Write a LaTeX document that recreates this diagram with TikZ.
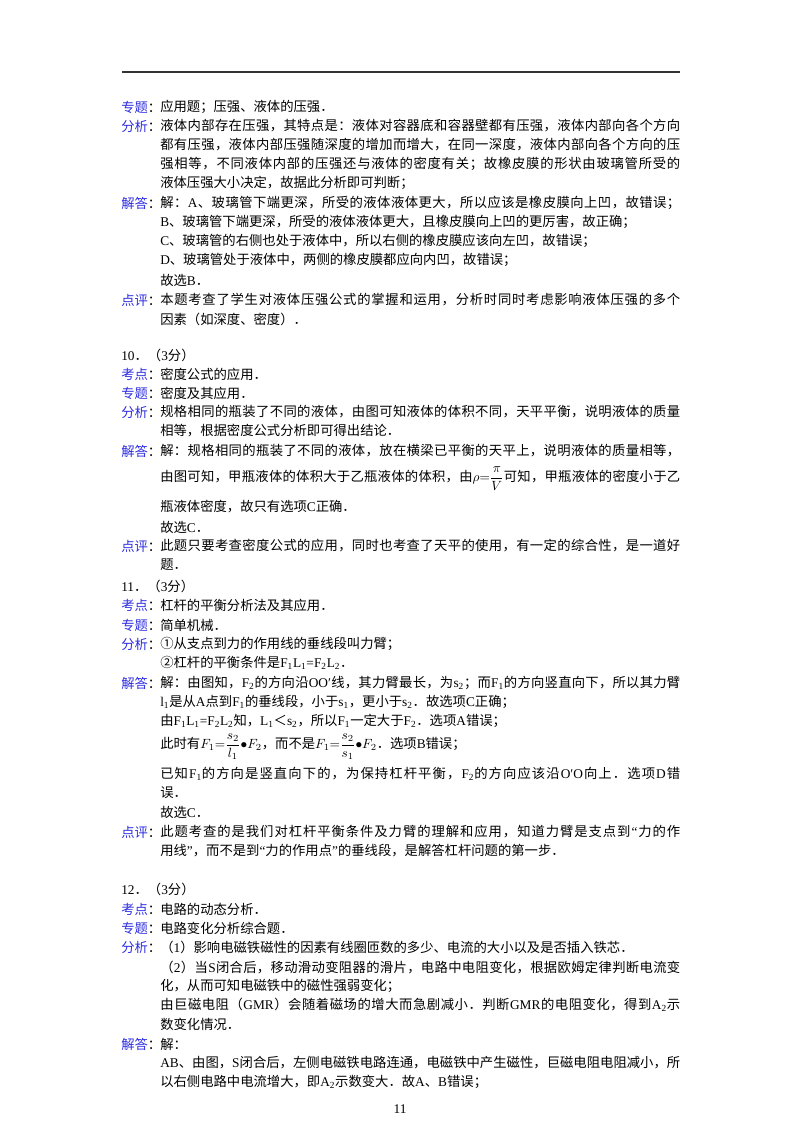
\documentclass[tikz,border=0pt]{standalone}
\usepackage{fontspec}
\usepackage{amsmath}
\usepackage{xcolor}
\usepackage{tikz}
\usetikzlibrary{positioning}
\setmainfont{Liberation Serif}
\newfontfamily\cjk{Noto Sans CJK SC}
\newfontfamily\lat{Liberation Serif}
\definecolor{lbl}{RGB}{45,45,225}
% switch fonts for Chinese characters
\XeTeXinterchartokenstate=1
\newXeTeXintercharclass\CJKcls
\def\setcls#1#2{\count255=#1 \loop\XeTeXcharclass\count255=\CJKcls
  \ifnum\count255<#2 \advance\count255 1 \repeat}
\setcls{"3000}{"303F}\setcls{"4E00}{"9FFF}\setcls{"FF00}{"FFEF}\setcls{"2460}{"24FF}
\XeTeXinterchartoks 0 \CJKcls = {\cjk\hskip0pt plus 2pt minus .4pt}
\XeTeXinterchartoks 4095 \CJKcls = {\cjk}
\XeTeXinterchartoks \CJKcls 0 = {\lat\hskip0pt plus 2pt minus .4pt}
\XeTeXinterchartoks \CJKcls 4095 = {\lat}
\XeTeXinterchartoks \CJKcls \CJKcls = {\hskip0pt plus 2pt minus .4pt}
\newcommand\fl[1]{\makebox[390pt][s]{#1}}
\newcommand\lo[1]{\textsubscript{#1}}
\newcommand\tg[1]{{\color{lbl}#1}：}

\begin{document}
\begin{tikzpicture}[x=0.75pt, y=-0.75pt,
    every node/.style={font=\fontsize{10}{12}\selectfont},
    row/.style={anchor=west, inner sep=0pt},
    tag/.style={anchor=west, inner sep=0pt}]
\useasboundingbox (0,0) rectangle (800,1132);

% TOP RULE
\coordinate (ra) at (122,72);
\coordinate (rb) at (680,72);
\draw[line width=0.8pt, black!80] (ra) -- (rb);

% QUESTION 9 (END)
\node[tag] (t9a) at (121,107) {\tg{专题}};
\node[row] (r9a) at (160,107) {应用题；压强、液体的压强．};
\node[tag] (t9b) at (121,126) {\tg{分析}};
\node[row] (r9b) at (160,126) {\fl{液体内部存在压强，其特点是：液体对容器底和容器壁都有压强，液体内部向各个方向}};
\node[row] (r9c) at (160,145) {\fl{都有压强，液体内部压强随深度的增加而增大，在同一深度，液体内部向各个方向的压}};
\node[row] (r9d) at (160,164) {\fl{强相等，不同液体内部的压强还与液体的密度有关；故橡皮膜的形状由玻璃管所受的}};
\node[row] (r9e) at (160,183) {液体压强大小决定，故据此分析即可判断；};
\node[tag] (t9c) at (121,203) {\tg{解答}};
\node[row] (r9f) at (160,203) {\fl{解：A、玻璃管下端更深，所受的液体液体更大，所以应该是橡皮膜向上凹，故错误；}};
\node[row] (r9g) at (160,222) {B、玻璃管下端更深，所受的液体液体更大，且橡皮膜向上凹的更厉害，故正确；};
\node[row] (r9h) at (160,241) {C、玻璃管的右侧也处于液体中，所以右侧的橡皮膜应该向左凹，故错误；};
\node[row] (r9i) at (160,260) {D、玻璃管处于液体中，两侧的橡皮膜都应向内凹，故错误；};
\node[row] (r9j) at (160,280) {故选B．};
\node[tag] (t9d) at (121,300) {\tg{点评}};
\node[row] (r9k) at (160,300) {\fl{本题考查了学生对液体压强公式的掌握和运用，分析时同时考虑影响液体压强的多个}};
\node[row] (r9l) at (160,319) {因素（如深度、密度）．};

% QUESTION 10
\node[tag] (q10) at (121,355) {10．（3分）};
\node[tag] (t10a) at (121,374) {\tg{考点}};
\node[row] (r10a) at (160,374) {密度公式的应用．};
\node[tag] (t10b) at (121,393) {\tg{专题}};
\node[row] (r10b) at (160,393) {密度及其应用．};
\node[tag] (t10c) at (121,412) {\tg{分析}};
\node[row] (r10c) at (160,412) {\fl{规格相同的瓶装了不同的液体，由图可知液体的体积不同，天平平衡，说明液体的质量}};
\node[row] (r10d) at (160,431) {相等，根据密度公式分析即可得出结论．};
\node[tag] (t10d) at (121,451) {\tg{解答}};
\node[row] (r10e) at (160,451) {\fl{解：规格相同的瓶装了不同的液体，放在横梁已平衡的天平上，说明液体的质量相等，}};
\node[row] (r10f) at (160,479) {\fl{由图可知，甲瓶液体的体积大于乙瓶液体的体积，由$\rho{=}\dfrac{\pi}{V}$可知，甲瓶液体的密度小于乙}};
\node[row] (r10g) at (160,507) {瓶液体密度，故只有选项C正确．};
\node[row] (r10h) at (160,527) {故选C．};
\node[tag] (t10e) at (121,546) {\tg{点评}};
\node[row] (r10i) at (160,546) {\fl{此题只要考查密度公式的应用，同时也考查了天平的使用，有一定的综合性，是一道好}};
\node[row] (r10j) at (160,565) {题．};

% QUESTION 11
\node[tag] (q11) at (121,586) {11．（3分）};
\node[tag] (t11a) at (121,605) {\tg{考点}};
\node[row] (r11a) at (160,605) {杠杆的平衡分析法及其应用．};
\node[tag] (t11b) at (121,625) {\tg{专题}};
\node[row] (r11b) at (160,625) {简单机械．};
\node[tag] (t11c) at (121,644) {\tg{分析}};
\node[row] (r11c) at (160,644) {①从支点到力的作用线的垂线段叫力臂；};
\node[row] (r11d) at (160,663) {②杠杆的平衡条件是F\lo{1}L\lo{1}=F\lo{2}L\lo{2}．};
\node[tag] (t11d) at (121,683) {\tg{解答}};
\node[row] (r11e) at (160,683) {\fl{解：由图知，F\lo{2}的方向沿OO′线，其力臂最长，为s\lo{2}；而F\lo{1}的方向竖直向下，所以其力臂}};
\node[row] (r11f) at (160,702) {l\lo{1}是从A点到F\lo{1}的垂线段，小于s\lo{1}，更小于s\lo{2}．故选项C正确；};
\node[row] (r11g) at (160,721) {由F\lo{1}L\lo{1}=F\lo{2}L\lo{2}知，L\lo{1}＜s\lo{2}，所以F\lo{1}一定大于F\lo{2}．选项A错误；};
\node[row] (r11h) at (160,747) {此时有$F_1{=}\dfrac{s_2}{l_1}{\bullet}F_2$，而不是$F_1{=}\dfrac{s_2}{s_1}{\bullet}F_2$．选项B错误；};
\node[row] (r11i) at (160,774) {\fl{已知F\lo{1}的方向是竖直向下的，为保持杠杆平衡，F\lo{2}的方向应该沿O′O向上．选项D错}};
\node[row] (r11j) at (160,793) {误．};
\node[row] (r11k) at (160,812) {故选C．};
\node[tag] (t11e) at (121,832) {\tg{点评}};
\node[row] (r11l) at (160,832) {\fl{此题考查的是我们对杠杆平衡条件及力臂的理解和应用，知道力臂是支点到“力的作}};
\node[row] (r11m) at (160,851) {用线”，而不是到“力的作用点”的垂线段，是解答杠杆问题的第一步．};

% QUESTION 12
\node[tag] (q12) at (121,889) {12．（3分）};
\node[tag] (t12a) at (121,909) {\tg{考点}};
\node[row] (r12a) at (160,909) {电路的动态分析．};
\node[tag] (t12b) at (121,928) {\tg{专题}};
\node[row] (r12b) at (160,928) {电路变化分析综合题．};
\node[tag] (t12c) at (121,947) {\tg{分析}};
\node[row] (r12c) at (160,947) {（1）影响电磁铁磁性的因素有线圈匝数的多少、电流的大小以及是否插入铁芯．};
\node[row] (r12d) at (160,967) {\fl{（2）当S闭合后，移动滑动变阻器的滑片，电路中电阻变化，根据欧姆定律判断电流变}};
\node[row] (r12e) at (160,986) {化，从而可知电磁铁中的磁性强弱变化；};
\node[row] (r12f) at (160,1005) {\fl{由巨磁电阻（GMR）会随着磁场的增大而急剧减小．判断GMR的电阻变化，得到A\lo{2}示}};
\node[row] (r12g) at (160,1024) {数变化情况．};
\node[tag] (t12d) at (121,1044) {\tg{解答}};
\node[row] (r12h) at (160,1044) {解：};
\node[row] (r12i) at (160,1063) {\fl{AB、由图，S闭合后，左侧电磁铁电路连通，电磁铁中产生磁性，巨磁电阻电阻减小，所}};
\node[row] (r12j) at (160,1082) {以右侧电路中电流增大，即A\lo{2}示数变大．故A、B错误；};

% PAGE NUMBER
\node (pg) at (400,1109) {11};
\end{tikzpicture}
\end{document}
